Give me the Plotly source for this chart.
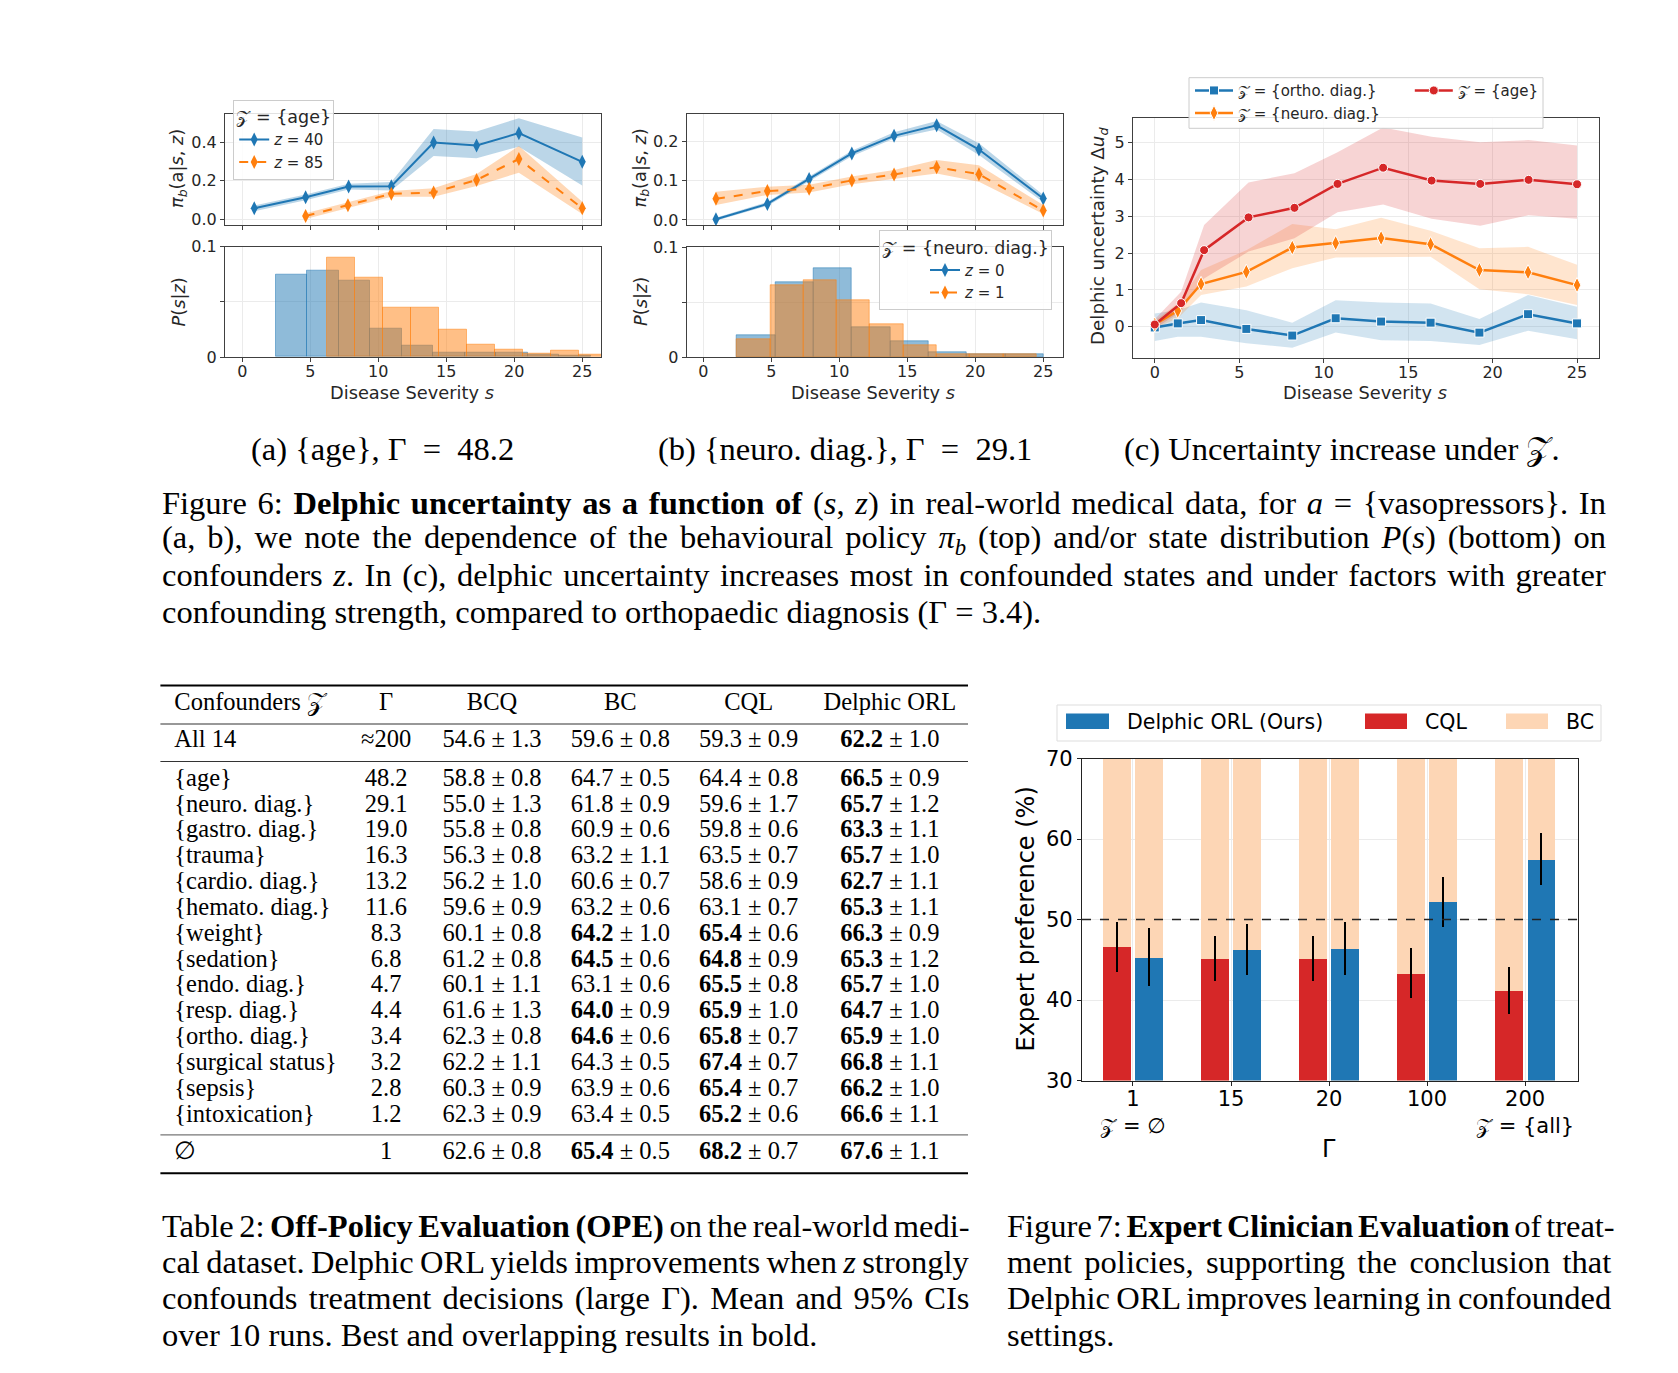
import json
import plotly.graph_objects as go

W, H = 1678, 1373
# map reference-pixel coordinates to paper fractions (page body has an 8px margin)
def PX(a): return (a - 8.0) / W
def PY(a): return 1 - (a - 8.0) / H

BLUE, ORANGE, RED, PEACH = "#1f77b4", "#ff7f0e", "#d62728", "#fdd6b5"
SANS, SERIF = "DejaVu Sans", "Liberation Serif"
TXT = "#262626"
ZC = "𝒵"

# ---------------- data: panel (a) ----------------
a_s40 = [0.88, 4.66, 7.82, 10.96, 14.07, 17.23, 20.34, 25.0]
a_pi40 = [0.057, 0.114, 0.170, 0.172, 0.398, 0.383, 0.447, 0.298]
a_lo40 = [0.042, 0.099, 0.155, 0.150, 0.329, 0.317, 0.377, 0.175]
a_hi40 = [0.072, 0.129, 0.185, 0.194, 0.468, 0.455, 0.525, 0.424]
a_s85 = [4.66, 7.77, 10.96, 14.07, 17.23, 20.34, 25.0]
a_pi85 = [0.017, 0.073, 0.132, 0.139, 0.204, 0.313, 0.057]
a_lo85 = [0.002, 0.058, 0.117, 0.117, 0.173, 0.242, 0.027]
a_hi85 = [0.032, 0.088, 0.147, 0.161, 0.235, 0.380, 0.091]
a_edges40 = [2.48, 4.79, 7.10, 9.42, 11.73, 14.04, 16.36, 18.67, 20.99, 23.30, 25.61]
a_p40 = [0.0743, 0.0780, 0.0689, 0.0254, 0.0100, 0.0042, 0.0042, 0.0042, 0.0018, 0.0015]
a_edges85 = [6.23, 8.29, 10.35, 12.41, 14.47, 16.53, 18.59, 20.65, 22.71, 24.77, 26.83]
a_p85 = [0.0897, 0.0722, 0.0444, 0.0444, 0.0245, 0.0109, 0.0063, 0.0027, 0.0054, 0.0018]

# ---------------- data: panel (b) ----------------
b_s = [0.93, 4.71, 7.78, 10.92, 14.03, 17.16, 20.27, 25.0]
b_pi0 = [0.002, 0.041, 0.105, 0.170, 0.215, 0.242, 0.180, 0.055]
b_lo0 = [-0.002, 0.036, 0.099, 0.163, 0.208, 0.231, 0.166, 0.045]
b_hi0 = [0.006, 0.046, 0.111, 0.177, 0.224, 0.253, 0.196, 0.064]
b_pi1 = [0.054, 0.074, 0.080, 0.101, 0.116, 0.135, 0.117, 0.024]
b_lo1 = [0.038, 0.064, 0.070, 0.091, 0.104, 0.119, 0.098, 0.015]
b_hi1 = [0.072, 0.085, 0.090, 0.111, 0.128, 0.153, 0.140, 0.038]
b_edges0 = [2.47, 5.29, 8.11, 10.93, 13.75, 16.57, 19.39, 22.21, 25.03]
b_p0 = [0.0201, 0.0684, 0.0812, 0.0274, 0.0146, 0.0040, 0.0027, 0.0027]
b_edges1 = [2.47, 4.92, 7.37, 9.82, 12.27, 14.72, 17.17, 19.62, 22.07, 24.52]
b_p1 = [0.0164, 0.0657, 0.0702, 0.0520, 0.0301, 0.0110, 0.0027, 0.0027, 0.0027]

# ---------------- data: panel (c) ----------------
c_s = [0.0, 1.36, 2.74, 5.42, 8.14, 10.71, 13.40, 16.33, 19.22, 22.10, 25.0]
c_s_age = [0.0, 1.56, 2.92, 5.55, 8.27, 10.82, 13.52, 16.39, 19.27, 22.13, 25.0]
c_ortho = [-0.02, 0.09, 0.18, -0.06, -0.24, 0.23, 0.14, 0.11, -0.16, 0.34, 0.09]
c_ortho_lo = [-0.39, -0.27, -0.27, -0.45, -0.57, -0.16, -0.37, -0.39, -0.50, -0.11, -0.34]
c_ortho_hi = [0.36, 0.45, 0.66, 0.45, 0.11, 0.72, 0.66, 0.63, 0.21, 0.86, 0.54]
c_neuro = [0.06, 0.43, 1.16, 1.49, 2.15, 2.27, 2.41, 2.24, 1.54, 1.48, 1.13]
c_neuro_lo = [-0.04, 0.23, 0.86, 1.09, 1.59, 1.88, 1.90, 1.90, 1.02, 0.88, 0.59]
c_neuro_hi = [0.16, 0.63, 1.54, 2.08, 2.79, 2.65, 2.96, 2.61, 2.13, 2.17, 1.68]
c_age = [0.06, 0.64, 2.08, 2.97, 3.23, 3.88, 4.32, 3.97, 3.88, 3.99, 3.87]
c_age_lo = [-0.05, 0.41, 1.31, 2.04, 2.40, 3.11, 3.32, 2.93, 2.74, 3.03, 2.93]
c_age_hi = [0.20, 0.95, 2.76, 3.92, 4.17, 4.74, 5.41, 5.16, 5.01, 5.07, 4.92]

# ---------------- data: figure 7 ----------------
gamma_labels = ["1", "15", "20", "100", "200"]
gamma_sub = [ZC + " = ∅", "", "", "", ZC + " = {all}"]
cql_pref = [46.6, 45.1, 45.1, 43.3, 41.2]
cql_err = [3.1, 2.8, 2.8, 3.1, 2.9]
delphic_pref = [45.3, 46.3, 46.4, 52.2, 57.5]
delphic_err = [3.6, 3.2, 3.3, 3.1, 3.2]
bc_pref = [100, 100, 100, 100, 100]
fig7_series = ["Delphic ORL (Ours)", "CQL", "BC"]

# ---------------- data: table 2 ----------------
confounders = ["All 14", "{age}", "{neuro. diag.}", "{gastro. diag.}", "{trauma}", "{cardio. diag.}",
               "{hemato. diag.}", "{weight}", "{sedation}", "{endo. diag.}", "{resp. diag.}",
               "{ortho. diag.}", "{surgical status}", "{sepsis}", "{intoxication}", "∅"]
gammas = ["≈200", "48.2", "29.1", "19.0", "16.3", "13.2", "11.6", "8.3", "6.8", "4.7", "4.4", "3.4", "3.2", "2.8", "1.2", "1"]
bcq_m = [54.6, 58.8, 55.0, 55.8, 56.3, 56.2, 59.6, 60.1, 61.2, 60.1, 61.6, 62.3, 62.2, 60.3, 62.3, 62.6]
bcq_c = [1.3, 0.8, 1.3, 0.8, 0.8, 1.0, 0.9, 0.8, 0.8, 1.1, 1.3, 0.8, 1.1, 0.9, 0.9, 0.8]
bc_m = [59.6, 64.7, 61.8, 60.9, 63.2, 60.6, 63.2, 64.2, 64.5, 63.1, 64.0, 64.6, 64.3, 63.9, 63.4, 65.4]
bc_c = [0.8, 0.5, 0.9, 0.6, 1.1, 0.7, 0.6, 1.0, 0.6, 0.6, 0.9, 0.6, 0.5, 0.6, 0.5, 0.5]
bc_b = [0, 0, 0, 0, 0, 0, 0, 1, 1, 0, 1, 1, 0, 0, 0, 1]
cql_m = [59.3, 64.4, 59.6, 59.8, 63.5, 58.6, 63.1, 65.4, 64.8, 65.5, 65.9, 65.8, 67.4, 65.4, 65.2, 68.2]
cql_c = [0.9, 0.8, 1.7, 0.6, 0.7, 0.9, 0.7, 0.6, 0.9, 0.8, 1.0, 0.7, 0.7, 0.7, 0.6, 0.7]
cql_b = [0, 0, 0, 0, 0, 0, 0, 1, 1, 1, 1, 1, 1, 1, 1, 1]
dorl_m = [62.2, 66.5, 65.7, 63.3, 65.7, 62.7, 65.3, 66.3, 65.3, 65.7, 64.7, 65.9, 66.8, 66.2, 66.6, 67.6]
dorl_c = [1.0, 0.9, 1.2, 1.1, 1.0, 1.1, 1.1, 0.9, 1.2, 1.0, 1.0, 1.0, 1.1, 1.0, 1.1, 1.1]
dorl_b = [1] * 16
table_header = ["Confounders " + ZC, "Γ", "BCQ", "BC", "CQL", "Delphic ORL"]

fig = go.Figure()

def band(xs, lo, hi, color, xa, ya):
    fig.add_trace(go.Scatter(x=list(xs) + list(xs)[::-1], y=list(hi) + list(lo)[::-1],
                             fill="toself", fillcolor=color, line=dict(width=0), mode="lines",
                             hoverinfo="skip", showlegend=False, xaxis=xa, yaxis=ya))

def line(xs, ys, color, name, legend, xa, ya, dash="solid", symbol="diamond-tall", size=10,
         width=2, mlw=0):
    fig.add_trace(go.Scatter(x=xs, y=ys, mode="lines+markers", name=name, legend=legend,
                             line=dict(color=color, width=width, dash=dash),
                             marker=dict(symbol=symbol, size=size, color=color,
                                         line=dict(color="white", width=mlw)),
                             xaxis=xa, yaxis=ya))

def hist(edges, vals, rgba, xa, ya):
    centers = [(edges[i] + edges[i + 1]) / 2 for i in range(len(vals))]
    widths = [edges[i + 1] - edges[i] for i in range(len(vals))]
    fig.add_trace(go.Bar(x=centers, y=vals, width=widths, showlegend=False,
                         marker=dict(color=rgba, line=dict(color=rgba, width=1)),
                         xaxis=xa, yaxis=ya))

# panel (a)
band(a_s40, a_lo40, a_hi40, "rgba(31,119,180,0.3)", "x", "y")
band(a_s85, a_lo85, a_hi85, "rgba(255,127,14,0.3)", "x", "y")
line(a_s40, a_pi40, BLUE, "<i>z</i> = 40", "legend", "x", "y")
line(a_s85, a_pi85, ORANGE, "<i>z</i> = 85", "legend", "x", "y", dash="dash")
hist(a_edges40, a_p40, "rgba(31,119,180,0.5)", "x2", "y2")
hist(a_edges85, a_p85, "rgba(255,127,14,0.5)", "x2", "y2")

# panel (b)
band(b_s, b_lo0, b_hi0, "rgba(31,119,180,0.3)", "x3", "y3")
band(b_s, b_lo1, b_hi1, "rgba(255,127,14,0.3)", "x3", "y3")
line(b_s, b_pi0, BLUE, "<i>z</i> = 0", "legend2", "x3", "y3")
line(b_s, b_pi1, ORANGE, "<i>z</i> = 1", "legend2", "x3", "y3", dash="dash")
hist(b_edges0, b_p0, "rgba(31,119,180,0.5)", "x4", "y4")
hist(b_edges1, b_p1, "rgba(255,127,14,0.5)", "x4", "y4")

# panel (c)
band(c_s, c_ortho_lo, c_ortho_hi, "rgba(31,119,180,0.2)", "x5", "y5")
band(c_s, c_neuro_lo, c_neuro_hi, "rgba(255,127,14,0.2)", "x5", "y5")
band(c_s_age, c_age_lo, c_age_hi, "rgba(214,39,40,0.2)", "x5", "y5")
line(c_s, c_ortho, BLUE, ZC + " = {ortho. diag.}", "legend3", "x5", "y5", symbol="square", size=9, width=2.5, mlw=1)
line(c_s, c_neuro, ORANGE, ZC + " = {neuro. diag.}", "legend3", "x5", "y5", symbol="diamond-tall", size=11, width=2.5, mlw=1)
line(c_s_age, c_age, RED, ZC + " = {age}", "legend5", "x5", "y5", symbol="circle", size=9, width=2.5, mlw=1)

# figure 7
xs7 = list(range(len(gamma_labels)))
for off in (-0.305, 0.025):
    fig.add_trace(go.Bar(x=xs7, y=bc_pref, width=0.28, offset=off, marker=dict(color=PEACH, line=dict(width=0)),
                         showlegend=False, xaxis="x6", yaxis="y6"))
fig.add_trace(go.Bar(x=xs7, y=cql_pref, width=0.28, offset=-0.305, marker=dict(color=RED, line=dict(width=0)),
                     error_y=dict(type="data", array=cql_err, color="black", thickness=2.4, width=0),
                     showlegend=False, xaxis="x6", yaxis="y6"))
fig.add_trace(go.Bar(x=xs7, y=delphic_pref, width=0.28, offset=0.025, marker=dict(color=BLUE, line=dict(width=0)),
                     error_y=dict(type="data", array=delphic_err, color="black", thickness=2.4, width=0),
                     showlegend=False, xaxis="x6", yaxis="y6"))

# table 2 as text marks on a hidden pixel-scaled axis
T_LEFT, T_RIGHT = 160.4, 968.0
col_x = [174.3, 386.1, 492.0, 620.3, 748.7, 889.8]
y_header, y_all, y_first, pitch, y_empty = 703.7, 741.2, 779.7, 25.83, 1152.9
row_y = [y_all] + [y_first + pitch * k for k in range(14)] + [y_empty]

def cell(m, c, b):
    return (f"<b>{m:.1f}</b> ± {c:.1f}" if b else f"{m:.1f} ± {c:.1f}")

TX0, TX1, TY0, TY1 = 150, 990, 675, 1195
tf = dict(family=SERIF, size=24.5, color="black")
fig.add_trace(go.Scatter(x=[col_x[0]] * (len(row_y) + 1), y=[y_header] + row_y, mode="text",
                         text=[table_header[0]] + confounders, textposition="middle right",
                         textfont=tf, showlegend=False, hoverinfo="skip", xaxis="x7", yaxis="y7"))
cols = [
    gammas,
    [cell(m, c, 0) for m, c in zip(bcq_m, bcq_c)],
    [cell(m, c, b) for m, c, b in zip(bc_m, bc_c, bc_b)],
    [cell(m, c, b) for m, c, b in zip(cql_m, cql_c, cql_b)],
    [cell(m, c, b) for m, c, b in zip(dorl_m, dorl_c, dorl_b)],
]
for j, colvals in enumerate(cols):
    fig.add_trace(go.Scatter(x=[col_x[j + 1]] * (len(row_y) + 1), y=[y_header] + row_y, mode="text",
                             text=[table_header[j + 1]] + colvals, textposition="middle center",
                             textfont=tf, showlegend=False, hoverinfo="skip", xaxis="x7", yaxis="y7"))

shapes = []
for yy, w, c in ((685.6, 2, "black"), (724.0, 1.2, "#333"), (761.5, 1.2, "#333"),
                 (1134.8, 1.2, "#777"), (1173.3, 2, "black")):
    shapes.append(dict(type="line", xref="paper", yref="paper", x0=PX(T_LEFT), x1=PX(T_RIGHT),
                       y0=PY(yy), y1=PY(yy), line=dict(color=c, width=w)))
# dashed 50 % line in figure 7
shapes.append(dict(type="line", xref="x6 domain", yref="y6", x0=0, x1=1, y0=50, y1=50, layer="above",
                   line=dict(color="#222", width=1.5, dash="dash")))
# frame of the panel (c) legend
shapes.append(dict(type="rect", xref="paper", yref="paper", x0=PX(1189), x1=PX(1543), y0=PY(128.3), y1=PY(77.7),
                   line=dict(color="#cccccc", width=1), fillcolor="rgba(255,255,255,0.85)", layer="above"))
# legend of figure 7 (wide patch keys as in the original)
shapes.append(dict(type="rect", xref="paper", yref="paper", x0=PX(1057), x1=PX(1601), y0=PY(741), y1=PY(705),
                   line=dict(color="#dddddd", width=1), fillcolor="white", layer="above"))
key_x = [(1066, 1109), (1365, 1407), (1506, 1548)]
key_tx = [1125, 1422.5, 1564]
for (k0, k1), col in zip(key_x, (BLUE, RED, PEACH)):
    shapes.append(dict(type="rect", xref="paper", yref="paper", x0=PX(k0), x1=PX(k1), y0=PY(729), y1=PY(713.5),
                       line=dict(width=0), fillcolor=col, layer="above"))

def axis(domain, rng, **kw):
    d = dict(domain=domain, range=rng, showline=True, linecolor="#404040", linewidth=1.2, mirror=True,
             ticks="outside", ticklen=4, tickcolor="#404040", tickwidth=1.2, showgrid=True,
             gridcolor="#ebebeb", gridwidth=1, zeroline=False, automargin=False,
             tickfont=dict(family=SANS, size=16, color=TXT))
    d.update(kw)
    return d

hist_minor = dict(tickvals=[0.05], ticks="outside", ticklen=4, tickcolor="#404040", tickwidth=1.2,
                  showgrid=True, gridcolor="#ebebeb")
s_ticks = [0, 5, 10, 15, 20, 25]
xa_dom = [PX(225), PX(601)]
xb_dom = [PX(686.7), PX(1063)]
f7font = dict(family=SANS, size=21, color="black")
layout_axes = dict(
    xaxis=axis(xa_dom, [-1.27, 26.38], anchor="y", tickvals=s_ticks, showticklabels=False),
    yaxis=axis([PY(224.5), PY(113.5)], [-0.027, 0.549], anchor="x", tickvals=[0, 0.2, 0.4],
               ticktext=["0.0", "0.2", "0.4"]),
    xaxis2=axis(xa_dom, [-1.27, 26.38], anchor="y2", tickvals=s_ticks, ticklabelstandoff=-4),
    yaxis2=axis([PY(357), PY(246.7)], [0, 0.1], anchor="x2", tickvals=[0, 0.1], ticktext=["0", "0.1"],
                minor=hist_minor),
    xaxis3=axis(xb_dom, [-1.22, 26.45], anchor="y3", tickvals=s_ticks, showticklabels=False),
    yaxis3=axis([PY(225), PY(114.3)], [-0.0128, 0.27], anchor="x3", tickvals=[0, 0.1, 0.2],
                ticktext=["0.0", "0.1", "0.2"]),
    xaxis4=axis(xb_dom, [-1.22, 26.45], anchor="y4", tickvals=s_ticks, ticklabelstandoff=-4),
    yaxis4=axis([PY(357), PY(247.3)], [0, 0.1], anchor="x4", tickvals=[0, 0.1], ticktext=["0", "0.1"],
                minor=hist_minor),
    xaxis5=axis([PX(1133), PX(1599)], [-1.29, 26.3], anchor="y5", tickvals=s_ticks, ticklabelstandoff=-4),
    yaxis5=axis([PY(358), PY(118)], [-0.85, 5.67], anchor="x5", tickvals=[0, 1, 2, 3, 4, 5]),
    xaxis6=axis([PX(1082), PX(1578)], [-0.52, 4.54], anchor="y6", tickvals=xs7,
                ticktext=[g + ("<br>" + s if s else "") for g, s in zip(gamma_labels, gamma_sub)],
                linecolor="#222", tickcolor="#222", tickfont=f7font, ticklabelstandoff=-5),
    yaxis6=axis([PY(1080.5), PY(758.5)], [30, 70], anchor="x6", tickvals=[30, 40, 50, 60, 70],
                linecolor="#222", tickcolor="#222", tickfont=f7font),
    xaxis7=dict(domain=[PX(TX0), PX(TX1)], range=[TX0, TX1], visible=False, anchor="y7", fixedrange=True),
    yaxis7=dict(domain=[PY(TY1), PY(TY0)], range=[TY1, TY0], visible=False, anchor="x7", fixedrange=True),
)

annotations = []
def ann(text, x, y, size, family=SANS, xanchor="center", angle=0, color=TXT):
    annotations.append(dict(text=text, x=PX(x), y=PY(y), xref="paper", yref="paper", showarrow=False,
                            xanchor=xanchor, yanchor="middle", textangle=angle,
                            align="left" if xanchor == "left" else "center",
                            font=dict(family=family, size=size, color=color)))

pi_lbl = "<i>π</i><sub><i>b</i></sub>(a|<i>s</i>, <i>z</i>)"
ps_lbl = "<i>P</i>(<i>s</i>|<i>z</i>)"
ds_lbl = "Disease Severity <i>s</i>"
LB = 17.8
ann(pi_lbl, 177.5, 168.5, LB, angle=-90)
ann(ps_lbl, 177.5, 302, LB, angle=-90)
ann(ds_lbl, 412, 392.5, LB)
ann(pi_lbl, 640, 168.5, LB, angle=-90)
ann(ps_lbl, 640, 302, LB, angle=-90)
ann(ds_lbl, 873, 392.5, LB)
ann("Delphic uncertainty Δ<i>u</i><sub><i>d</i></sub>", 1099.5, 236.5, 18.3, angle=-90)
ann(ds_lbl, 1365, 392.5, LB)
ann("Expert preference (%)", 1025, 919.5, 24, angle=-90, color="black")
ann("Γ", 1329, 1149, 24, color="black")
for name, tx in zip(fig7_series, key_tx):
    ann(name, tx, 721.5, 20.5, xanchor="left", color="black")

# sub-captions and captions
CAP = 32.5
NB = "\u00a0\u00a0"
ann("(a) {age}, Γ" + NB + "=" + NB + "48.2", 382.9, 449.2, CAP, family=SERIF, color="black")
ann("(b) {neuro. diag.}, Γ" + NB + "=" + NB + "29.1", 844.9, 449.2, CAP, family=SERIF, color="black")
ann("(c) Uncertainty increase under " + ZC + ".", 1342.2, 449.2, CAP, family=SERIF, color="black")
fig6_caption = [
    "Figure 6: <b>Delphic uncertainty as a function of</b> (<i>s</i>, <i>z</i>) in real-world medical data, for <i>a</i> = {vasopressors}. In",
    "(a, b), we note the dependence of the behavioural policy <i>π<sub>b</sub></i> (top) and/or state distribution <i>P</i>(<i>s</i>) (bottom) on",
    "confounders <i>z</i>. In (c), delphic uncertainty increases most in confounded states and under factors with greater",
    "confounding strength, compared to orthopaedic diagnosis (Γ = 3.4).",
]
tab_caption = [
    "Table 2: <b>Off-Policy Evaluation (OPE)</b> on the real-world medi-",
    "cal dataset. Delphic ORL yields improvements when <i>z</i> strongly",
    "confounds treatment decisions (large Γ). Mean and 95% CIs",
    "over 10 runs. Best and overlapping results in bold.",
]
fig7_caption = [
    "Figure 7: <b>Expert Clinician Evaluation</b> of treat-",
    "ment policies, supporting the conclusion that",
    "Delphic ORL improves learning in confounded",
    "settings.",
]
cap_y6 = [502.7, 539.0, 575.4, 611.8]
cap_yb = [1225.7, 1262.0, 1298.4, 1334.8]
for t, y in zip(fig6_caption, cap_y6):
    ann(t, 160.4, y, CAP, family=SERIF, xanchor="left", color="black")
for t, y in zip(tab_caption, cap_yb):
    ann(t, 160.4, y, CAP, family=SERIF, xanchor="left", color="black")
for t, y in zip(fig7_caption, cap_yb):
    ann(t, 1005.3, y, CAP, family=SERIF, xanchor="left", color="black")

# justified caption lines: plain-text prefix -> full line width in px
justify = [
    ["Figure 6:", 1604.3 - 160.4], ["(a, b), we", 1604.3 - 160.4], ["confounders z.", 1604.3 - 160.4],
    ["Table 2:", 967.9 - 160.4], ["cal dataset.", 967.9 - 160.4], ["confounds treatment", 967.9 - 160.4],
    ["Figure 7:", 1613.0 - 1005.3], ["ment policies", 1609.6 - 1005.3], ["Delphic ORL improves", 1609.6 - 1005.3],
]
post_js = """
var J = %s;
document.querySelectorAll('text.annotation-text').forEach(function(t){
  var s = t.textContent;
  J.forEach(function(p){
    if (s.indexOf(p[0]) === 0) {
      var w = t.getBBox().width;
      var n = (s.match(/ /g) || []).length;
      if (n > 0) { t.style.wordSpacing = ((p[1] - w) / n) + 'px'; }
    }
  });
});
""" % json.dumps(justify)

leg_box = dict(bgcolor="rgba(255,255,255,0.85)", bordercolor="#cccccc", borderwidth=1,
               font=dict(family=SANS, size=15, color=TXT), xanchor="left", yanchor="top",
               tracegroupgap=0, itemwidth=30)
fig.update_layout(
    width=W, height=H, margin=dict(l=0, r=0, t=0, b=0), paper_bgcolor="white", plot_bgcolor="white",
    barmode="overlay", bargap=0, showlegend=True, annotations=annotations, shapes=shapes,
    legend=dict(x=PX(233.2), y=PY(99.5), title=dict(text=ZC + " = {age}", side="top center",
                font=dict(family=SANS, size=17.5, color=TXT)), **leg_box),
    legend2=dict(x=PX(879), y=PY(230), indentation=45,
                 title=dict(text=ZC + " = {neuro. diag.}", side="top center",
                            font=dict(family=SANS, size=17.5, color=TXT)), **leg_box),
    legend3=dict(x=PX(1190), y=PY(74.2), bgcolor="rgba(0,0,0,0)", borderwidth=0, itemwidth=38,
                 font=dict(family=SANS, size=15, color=TXT), xanchor="left", yanchor="top", tracegroupgap=0),
    legend5=dict(x=PX(1409.8), y=PY(74.2), bgcolor="rgba(0,0,0,0)", borderwidth=0, itemwidth=38,
                 font=dict(family=SANS, size=15, color=TXT), xanchor="left", yanchor="top", tracegroupgap=0),
    **layout_axes,
)

fig.write_html("out.html", post_script=post_js)
